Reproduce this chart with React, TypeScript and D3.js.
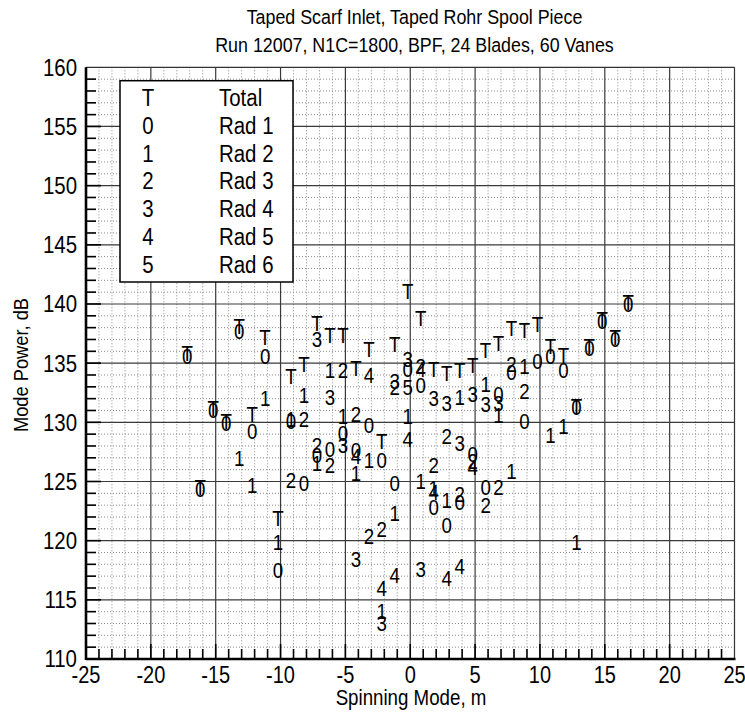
import React from "react";
import * as d3 from "d3";

// ---------- data ----------
const titleLines = [
  "Taped Scarf Inlet, Taped Rohr Spool Piece",
  "Run 12007, N1C=1800, BPF, 24 Blades, 60 Vanes",
];
const xAxisTitle = "Spinning Mode, m";
const yAxisTitle = "Mode Power, dB";
const xTicks = [-25, -20, -15, -10, -5, 0, 5, 10, 15, 20, 25];
const yTicks = [110, 115, 120, 125, 130, 135, 140, 145, 150, 155, 160];

const seriesSymbols = ["T", "0", "1", "2", "3", "4", "5"];
const seriesNames = ["Total", "Rad 1", "Rad 2", "Rad 3", "Rad 4", "Rad 5", "Rad 6"];

// [spinning mode m, mode power dB]
const total: [number, number][] = [
  [-17, 135.8], [-16, 124.5], [-15, 131.2], [-14, 130.1], [-13, 138.1], [-12, 130.7],
  [-11, 137.2], [-10, 121.9], [-9, 133.9], [-8, 134.9], [-7, 138.4], [-6, 137.4],
  [-5, 137.4], [-4, 134.6], [-3, 136.2], [-2, 128.4], [-1, 136.6], [0, 141.05],
  [1, 138.8], [2, 134.5], [3, 134.15], [4, 134.4], [5, 134.85], [6, 136.1],
  [7, 136.7], [8, 137.95], [9, 137.8], [10, 138.3], [11, 136.4], [12, 135.7],
  [13, 131.4], [14, 136.4], [15, 138.7], [16, 137.2], [17, 140.15],
];
const rad1: [number, number][] = [
  [-17, 135.6], [-16, 124.35], [-15, 131.05], [-14, 129.95], [-13, 137.7], [-12, 129.25],
  [-11, 135.6], [-10, 117.5], [-9, 130.1], [-8, 124.85], [-7, 127.2], [-6, 127.7],
  [-5, 129.05], [-4, 127.6], [-3, 129.75], [-2, 126.8], [-1, 124.85], [0, 134.5],
  [1, 133.1], [2, 122.8], [3, 121.3], [4, 123.25], [5, 127.3], [6, 124.5],
  [7, 132.4], [8, 134.2], [9, 130.05], [10, 135.2], [11, 135.6], [12, 134.4],
  [13, 131.25], [14, 136.25], [15, 138.55], [16, 137.05], [17, 140.0],
];
const rad2: [number, number][] = [
  [-13, 127.0], [-12, 124.65], [-11, 132.0], [-10, 119.9], [-9, 130.3], [-8, 132.3],
  [-7, 126.5], [-6, 134.4], [-5, 130.5], [-4, 125.7], [-3, 126.8], [-2, 114.0],
  [-1, 122.3], [0, 130.5], [1, 125.0], [2, 124.4], [3, 123.4], [4, 132.1],
  [6, 133.2], [7, 130.6], [8, 125.9], [9, 134.7], [11, 128.9], [12, 129.7], [13, 119.9],
];
const rad3: [number, number][] = [
  [-9, 125.1], [-8, 130.3], [-7, 128.05], [-6, 126.35], [-5, 134.4], [-4, 130.7],
  [-3, 120.4], [-2, 121.0], [-1, 132.97], [1, 134.7], [2, 126.35], [3, 128.8],
  [4, 123.95], [5, 126.7], [6, 123.0], [7, 124.5], [8, 134.9], [9, 132.6],
];
const rad4: [number, number][] = [
  [-7, 137.05], [-6, 132.1], [-5, 128.05], [-4, 118.45], [-2, 113.0], [-1, 133.45],
  [0, 135.3], [1, 117.6], [2, 132.06], [3, 131.6], [4, 128.2], [5, 132.4],
  [6, 131.55], [7, 131.6],
];
const rad5: [number, number][] = [
  [-4, 127.1], [-3, 133.95], [-2, 116.0], [-1, 117.1], [0, 128.6], [1, 134.5],
  [2, 124.1], [3, 116.8], [4, 117.8], [5, 126.2],
];
const rad6: [number, number][] = [[0, 133.0]];

const seriesData = [total, rad1, rad2, rad3, rad4, rad5, rad6];

// ---------- layout ----------
const W = 745;
const H = 717;
const FONT = '"Liberation Sans", Arial, Helvetica, sans-serif';
const SX = 0.87;

const x = d3.scaleLinear().domain([-25, 25]).range([86, 734.5]);
const y = d3.scaleLinear().domain([110, 160]).range([659, 67.3]);

function Txt({ tx, ty, size, anchor = "middle", rotate = 0, dy = "0", dx = 0, children }: any) {
  return (
    <g transform={`translate(${tx},${ty}) rotate(${rotate}) scale(${SX},1)`}>
      <text
        x={dx}
        textAnchor={anchor}
        dy={dy}
        fontSize={size}
        fontFamily={FONT}
        fill="#000"
      >
        {children}
      </text>
    </g>
  );
}

export default function App() {
  const [x0, x1] = x.range();
  const [y0, y1] = y.range();
  const minorX = d3.range(-24, 25).filter((v) => v % 5 !== 0);
  const minorY = d3.range(111, 160).filter((v) => v % 5 !== 0);
  const majorXg = xTicks.filter((v) => v > -25 && v < 25);
  const majorYg = yTicks.filter((v) => v > 110 && v < 160);
  const allX = d3.range(-24, 25);
  const allY = d3.range(111, 160);

  const legX = 120;
  const legY = 80.7;
  const legW = 173;
  const legH = 201.3;
  const legRow0 = 97.5;
  const legStep = 27.8;

  return (
    <div style={{ position: "absolute", left: 0, top: 0 }}>
      <svg width={W} height={H} style={{ display: "block", background: "#fff" }}>
        <rect x={0} y={0} width={W} height={H} fill="#fff" />
        {/* minor grid */}
        <g stroke="#8a8a8a" strokeWidth={1} strokeDasharray="1 2">
          {minorX.map((v) => (
            <line key={"mx" + v} x1={x(v)} x2={x(v)} y1={y1} y2={y0} />
          ))}
          {minorY.map((v) => (
            <line key={"my" + v} x1={x0} x2={x1} y1={y(v)} y2={y(v)} />
          ))}
        </g>
        {/* major grid */}
        <g stroke="#3a3a3a" strokeWidth={1.2}>
          {majorXg.map((v) => (
            <line key={"Mx" + v} x1={x(v)} x2={x(v)} y1={y1} y2={y0} />
          ))}
          {majorYg.map((v) => (
            <line key={"My" + v} x1={x0} x2={x1} y1={y(v)} y2={y(v)} />
          ))}
        </g>
        {/* frame */}
        <line x1={x0} x2={x1} y1={y1} y2={y1} stroke="#333" strokeWidth={1.2} />
        <line x1={x1} x2={x1} y1={y1} y2={y0} stroke="#333" strokeWidth={1.2} />
        <line x1={x0} x2={x1 + 1} y1={y0} y2={y0} stroke="#000" strokeWidth={2.6} />
        <line x1={x0} x2={x0} y1={y1} y2={y0 + 1} stroke="#000" strokeWidth={2.6} />
        {/* ticks */}
        <g stroke="#000" strokeWidth={1.6}>
          {allX.map((v) => (
            <line key={"tx" + v} x1={x(v)} x2={x(v)} y1={y0} y2={y0 - (v % 5 === 0 ? 15 : 10)} />
          ))}
          {allY.map((v) => (
            <line key={"ty" + v} x1={x0} x2={x0 + (v % 5 === 0 ? 15 : 10)} y1={y(v)} y2={y(v)} />
          ))}
        </g>
        {/* tick labels */}
        {xTicks.map((v) => (
          <Txt key={"xl" + v} tx={x(v)} ty={683} size={23}>
            {String(v)}
          </Txt>
        ))}
        {yTicks.map((v) => (
          <Txt key={"yl" + v} tx={77} ty={y(v)} size={23.5} anchor="end" dy="0.36em">
            {String(v)}
          </Txt>
        ))}
        {/* axis titles */}
        <Txt tx={411} ty={705} size={21.5}>
          {xAxisTitle}
        </Txt>
        <Txt tx={28} ty={365} size={21} rotate={-90}>
          {yAxisTitle}
        </Txt>
        {/* title */}
        <Txt tx={414.5} ty={23.5} size={20.5}>
          {titleLines[0]}
        </Txt>
        <Txt tx={414.5} ty={51.5} size={20.5}>
          {titleLines[1]}
        </Txt>
        {/* markers */}
        {seriesData.map((data, si) => (
          <g key={"s" + si}>
            {data.map(([m, db], i) => (
              <Txt key={i} tx={x(m) - 2.5} ty={y(db)} size={21.5} dy="0.36em">
                {seriesSymbols[si]}
              </Txt>
            ))}
          </g>
        ))}
        {/* legend */}
        <rect x={legX} y={legY} width={legW} height={legH} fill="#fff" stroke="#000" strokeWidth={1.5} />
        {seriesSymbols.map((s, i) => (
          <g key={"lg" + i}>
            <Txt tx={148} ty={legRow0 + i * legStep} size={23.5} dy="0.36em">
              {s}
            </Txt>
            <Txt tx={219} ty={legRow0 + i * legStep} size={23.5} anchor="start" dy="0.36em">
              {seriesNames[i]}
            </Txt>
          </g>
        ))}
      </svg>
    </div>
  );
}
